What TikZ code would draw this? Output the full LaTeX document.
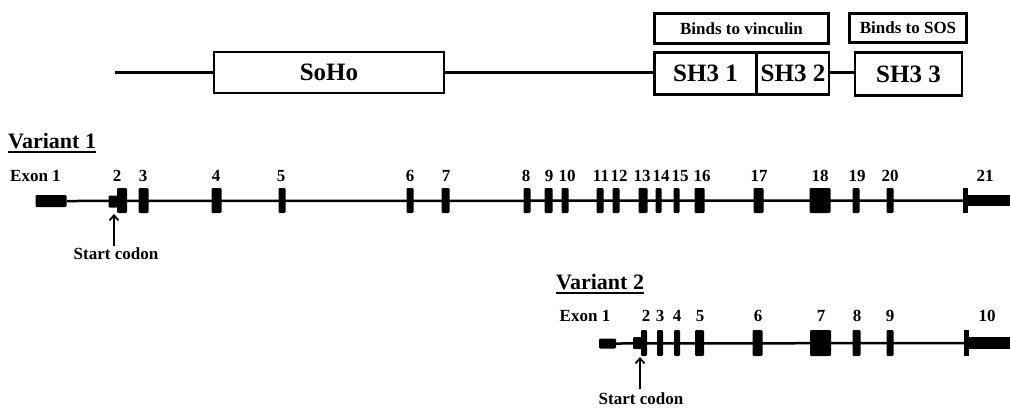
\documentclass[tikz,border=0pt]{standalone}
\usepackage{fontspec}
\setmainfont{Liberation Serif}
\usetikzlibrary{arrows.meta}
\tikzset{
  dom/.style={draw, line width=2.8pt, inner sep=0pt, font=\fontsize{25}{30}\selectfont\bfseries},
  bind/.style={draw, line width=2.4pt, inner sep=0pt, font=\fontsize{17}{20}\selectfont\bfseries},
  conn/.style={line width=2.6pt},
  gene/.style={line width=2.5pt},
  exon/.style={fill=black, draw=none, inner sep=0pt, rounded corners=1.2pt},
  lbl/.style={inner sep=0pt, anchor=base, font=\fontsize{17}{20}\selectfont\bfseries},
  ttl/.style={inner sep=0pt, anchor=base west, font=\fontsize{22}{26}\selectfont\bfseries},
  uline/.style={line width=1.8pt},
  arr/.style={line width=1.8pt, -{Straight Barb[length=5pt,width=9pt]}},
}
\begin{document}
\begin{tikzpicture}[x=1pt,y=-1pt]
\useasboundingbox[fill=white] (0,0) rectangle (1010,408);
% ---- protein domains ----
\coordinate (pstart) at (115,72.5);
\node[dom, minimum width=230pt, minimum height=41pt] (soho) at (329,72.5) {SoHo};
\node[dom, minimum width=102pt, minimum height=42pt] (sh31) at (705.5,73.5) {SH3 1};
\node[dom, minimum width=72pt, minimum height=42pt] (sh32) at (793,73.5) {SH3 2};
\node[dom, minimum width=107pt, minimum height=43pt] (sh33) at (908.5,74) {SH3 3};
\node[bind, minimum width=174pt, minimum height=30pt] (bv) at (741.5,28.5) {Binds to vinculin};
\node[bind, minimum width=117pt, minimum height=29pt] (bs) at (908,28) {Binds to SOS};
\draw[conn] (pstart) -- (soho.west);
\draw[conn] (soho.east) -- (soho.east -| sh31.west);
\draw[conn] (sh32.east |- soho.east) -- (soho.east -| sh33.west);
% ---- Variant 1 ----
\node[ttl] (v1t) at (8,148) {Variant 1};
\draw[uline] ([yshift=-4pt]v1t.base west) -- ([yshift=-4pt]v1t.base east);
\node[lbl, anchor=base west] (v1x1) at (10,181.5) {Exon 1};
\node[exon, minimum width=31pt, minimum height=12pt] (a1) at (51,201) {};
\node[exon, minimum width=9pt, minimum height=12pt] (a2s) at (113,201.5) {};
\node[exon, minimum width=10pt, minimum height=25pt] (a2) at (122,200.5) {};
\node[exon, minimum width=10pt, minimum height=25pt] (a3) at (143.5,200.5) {};
\node[exon, minimum width=10pt, minimum height=25pt] (a4) at (216.5,200.5) {};
\node[exon, minimum width=7pt, minimum height=25pt] (a5) at (282,200.5) {};
\node[exon, minimum width=7pt, minimum height=25pt] (a6) at (410,200.5) {};
\node[exon, minimum width=8pt, minimum height=25pt] (a7) at (445.5,200.5) {};
\node[exon, minimum width=7pt, minimum height=25pt] (a8) at (527,200.5) {};
\node[exon, minimum width=8pt, minimum height=25pt] (a9) at (548.5,200.5) {};
\node[exon, minimum width=7pt, minimum height=25pt] (a10) at (565,200.5) {};
\node[exon, minimum width=7pt, minimum height=25pt] (a11) at (600,200.5) {};
\node[exon, minimum width=7pt, minimum height=25pt] (a12) at (616,200.5) {};
\node[exon, minimum width=9pt, minimum height=25pt] (a13) at (643,200.5) {};
\node[exon, minimum width=6pt, minimum height=25pt] (a14) at (658.5,200.5) {};
\node[exon, minimum width=6pt, minimum height=25pt] (a15) at (676.5,200.5) {};
\node[exon, minimum width=10pt, minimum height=25pt] (a16) at (699.5,200.5) {};
\node[exon, minimum width=10pt, minimum height=25pt] (a17) at (758.5,200.5) {};
\node[exon, minimum width=21pt, minimum height=25pt] (a18) at (820,200.5) {};
\node[exon, minimum width=7pt, minimum height=25pt] (a19) at (856,200.5) {};
\node[exon, minimum width=7pt, minimum height=25pt] (a20) at (890,200.5) {};
\node[exon, minimum width=5pt, minimum height=25pt, rounded corners=0pt] (a21) at (965.5,200.5) {};
\node[exon, minimum width=43pt, minimum height=11pt, rounded corners=0pt] (a21b) at (988.5,200.5) {};
\draw[gene] (a1.east) -- (a21.west);
\foreach \t/\x in {2/117,3/143,4/216,5/281,6/410,7/446,8/526,9/549,10/567,11/601,12/619,13/642,14/661,15/680,16/702,17/759,18/820,19/857,20/890,21/985}
  \node[lbl] (la\t) at (\x,181.5) {\t};
\node[lbl] (sc1) at (116,259) {Start codon};
\coordinate (tip1) at (114,214);
\draw[arr] (114,246) -- (tip1);
% ---- Variant 2 ----
\node[ttl] (v2t) at (556,289) {Variant 2};
\draw[uline] ([yshift=-4pt]v2t.base west) -- ([yshift=-4pt]v2t.base east);
\node[lbl] (v2x1) at (585,321.5) {Exon 1};
\node[exon, minimum width=17pt, minimum height=10pt] (b1) at (607.5,343.5) {};
\node[exon, minimum width=9pt, minimum height=12pt] (b2s) at (637.5,343) {};
\node[exon, minimum width=6pt, minimum height=26pt] (b2) at (644,343) {};
\node[exon, minimum width=6pt, minimum height=26pt] (b3) at (660,343) {};
\node[exon, minimum width=6pt, minimum height=26pt] (b4) at (677,343) {};
\node[exon, minimum width=9pt, minimum height=26pt] (b5) at (699.5,343) {};
\node[exon, minimum width=10pt, minimum height=26pt] (b6) at (757.5,343) {};
\node[exon, minimum width=21pt, minimum height=26pt] (b7) at (820.5,343) {};
\node[exon, minimum width=8pt, minimum height=26pt] (b8) at (856.5,343) {};
\node[exon, minimum width=7pt, minimum height=26pt] (b9) at (890,343) {};
\node[exon, minimum width=5pt, minimum height=26pt, rounded corners=0pt] (b10) at (966.5,343) {};
\node[exon, minimum width=42pt, minimum height=12pt, rounded corners=0pt] (b10b) at (989,343) {};
\draw[gene] (b1.east) -- (b10.west);
\foreach \t/\x in {2/646,3/660,4/677,5/700,6/758,7/821,8/857,9/890,10/987}
  \node[lbl] (lb\t) at (\x,321.5) {\t};
\node[lbl] (sc2) at (641,404) {Start codon};
\coordinate (tip2) at (640,357);
\draw[arr] (640,389) -- (tip2);
\end{tikzpicture}
\end{document}
